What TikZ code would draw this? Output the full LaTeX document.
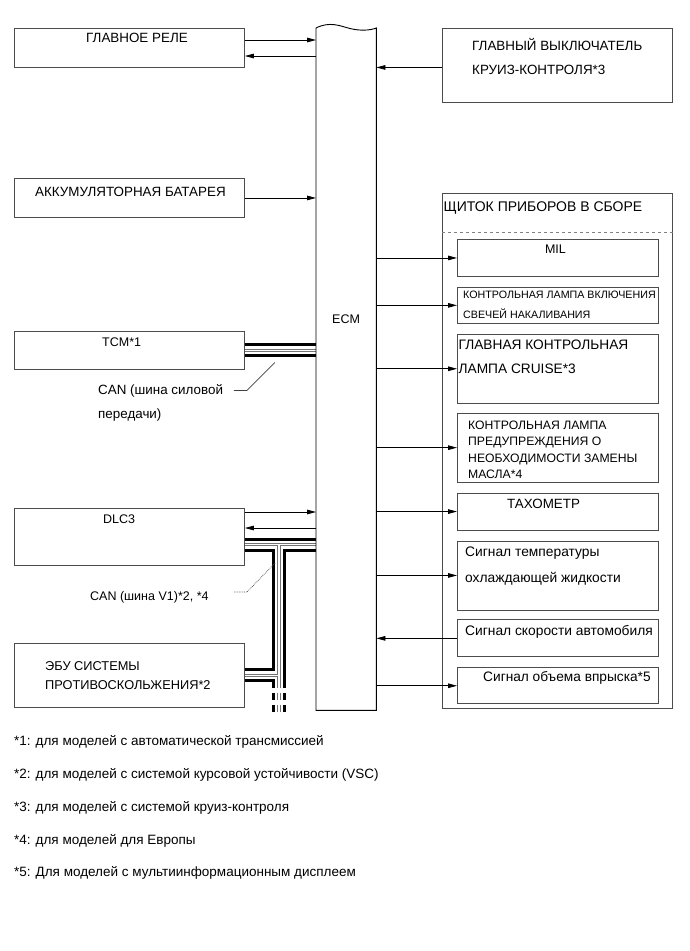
\documentclass[tikz,border=0pt]{standalone}
\usepackage{fontspec}
\setmainfont{Liberation Sans}
\usetikzlibrary{arrows.meta,positioning,calc}
\tikzset{
  box/.style    ={draw=black!70,line width=0.9pt,inner sep=0pt,anchor=north west},
  panelbox/.style={box,minimum width=201pt},
  txt/.style    ={inner sep=0pt,anchor=north west,align=left,
                  font=\fontsize{13.4pt}{24pt}\selectfont},
  latin/.style  ={txt,font=\fontsize{12.5pt}{24pt}\selectfont},
  small/.style  ={txt,font=\fontsize{10.7pt}{19.5pt}\selectfont},
  big/.style    ={txt,font=\fontsize{13.7pt}{24pt}\selectfont},
  note/.style   ={inner sep=0pt,anchor=west,font=\fontsize{13.5pt}{16pt}\selectfont},
  sig/.style    ={-{Triangle[length=9pt,width=4.6pt]},line width=0.8pt},
  lead/.style   ={line width=0.7pt,draw=black!75},
}
\begin{document}
\begin{tikzpicture}[x=1pt,y=-1pt]
\useasboundingbox (0,0) rectangle (690,951);

% ECM column
\node[inner sep=0pt,anchor=north west,minimum width=60pt,minimum height=682pt] (ecm) at (316,28) {};
\node[latin] (ecmT) at (332,315) {ECM};

% left-hand units
\node[box,minimum width=230pt,minimum height=39pt] (relay) at (14,28) {};
\node[txt] (relayT) at ([shift={(72,5)}]relay.north west) {ГЛАВНОЕ РЕЛЕ};
\node[box,minimum width=230pt,minimum height=39pt] (batt) at (14,178) {};
\node[txt] (battT) at ([shift={(21,9)}]batt.north west) {АККУМУЛЯТОРНАЯ БАТАРЕЯ};
\node[box,minimum width=230pt,minimum height=38pt] (tcm) at (14,331) {};
\node[latin] (tcmT) at ([shift={(88,7)}]tcm.north west) {TCM*1};
\node[box,minimum width=230pt,minimum height=57pt] (dlc) at (14,508) {};
\node[latin] (dlcT) at ([shift={(89,7)}]dlc.north west) {DLC3};
\node[box,minimum width=230pt,minimum height=64pt] (esp) at (14,643) {};
\node[txt,font=\fontsize{12.8pt}{19pt}\selectfont] (espT) at ([shift={(31,18)}]esp.north west)
  {ЭБУ СИСТЕМЫ\\ПРОТИВОСКОЛЬЖЕНИЯ*2};

% right-hand units
\node[box,minimum width=230pt,minimum height=74pt] (cruise) at (442,28) {};
\node[txt] (cruiseT) at ([shift={(30,10)}]cruise.north west)
  {ГЛАВНЫЙ ВЫКЛЮЧАТЕЛЬ\\КРУИЗ-КОНТРОЛЯ*3};
\node[box,minimum width=230pt,minimum height=515pt] (panel) at (442,193) {};
\node[txt,font=\fontsize{14pt}{16pt}\selectfont] (panelT) at ([shift={(1.5,9)}]panel.north west)
  {ЩИТОК ПРИБОРОВ В СБОРЕ};
\draw[dashed,draw=black!50,line width=0.7pt]
  ([yshift=-39pt]panel.north west) -- ([yshift=-39pt]panel.north east);

\node[panelbox,minimum height=37pt] (mil) at (457,239) {};
\node[panelbox,minimum height=36pt,below=10pt of mil] (glow) {};
\node[panelbox,minimum height=69pt,below=10pt of glow] (lamp) {};
\node[panelbox,minimum height=69pt,below=9pt of lamp] (oil) {};
\node[panelbox,minimum height=37pt,below=10pt of oil] (tacho) {};
\node[panelbox,minimum height=69pt,below=10pt of tacho] (temp) {};
\node[panelbox,minimum height=37pt,below=9pt of temp] (speed) {};
\node[panelbox,minimum height=36pt,below=10pt of speed] (inj) {};

\node[latin,anchor=north] (milT) at ([shift={(-2.5,6)}]mil.north) {MIL};
\node[small] (glowT) at ([shift={(6,4)}]glow.north west)
  {КОНТРОЛЬНАЯ ЛАМПА ВКЛЮЧЕНИЯ\\СВЕЧЕЙ НАКАЛИВАНИЯ};
\node[big] (lampT) at ([shift={(1.5,6)}]lamp.north west)
  {ГЛАВНАЯ КОНТРОЛЬНАЯ\\ЛАМПА CRUISE*3};
\node[txt,font=\fontsize{12.2pt}{16.3pt}\selectfont] (oilT) at ([shift={(11,8)}]oil.north west)
  {КОНТРОЛЬНАЯ ЛАМПА\\ПРЕДУПРЕЖДЕНИЯ О\\НЕОБХОДИМОСТИ ЗАМЕНЫ\\МАСЛА*4};
\node[txt] (tachoT) at ([shift={(50,6)}]tacho.north west) {ТАХОМЕТР};
\node[txt,font=\fontsize{13.8pt}{26pt}\selectfont] (tempT) at ([shift={(8,6)}]temp.north west)
  {Сигнал температуры\\охлаждающей жидкости};
\node[txt,font=\fontsize{13.8pt}{16pt}\selectfont] (speedT) at ([shift={(8,6)}]speed.north west)
  {Сигнал скорости автомобиля};
\node[txt,font=\fontsize{13.7pt}{16pt}\selectfont] (injT) at ([shift={(26,4)}]inj.north west)
  {Сигнал объема впрыска*5};

% CAN buses, drawn in layers so that the branches merge
\coordinate (tee) at (279,544.5);
\coordinate (busend) at (279,688);
\foreach \w/\c in {14/black, 8/white, 3.6/black!55, 1.4/white}{
  \draw[line width=\w pt,draw=\c] (tcm.east) -- (tcm.east -| ecm.west);
  \draw[line width=\w pt,draw=\c] (dlc.east |- tee) -- (tee -| ecm.west);
  \draw[line width=\w pt,draw=\c] (tee) -- (busend);
  \draw[line width=\w pt,draw=\c] (esp.east) -- (esp.east -| tee);
  \draw[line width=\w pt,draw=\c] ([yshift=-5pt]busend) -- ++(0,7);
  \draw[line width=\w pt,draw=\c] ([yshift=-17pt]busend) -- ++(0,7);
}

% ECM outline with broken top
\draw[line width=0.9pt] (ecm.north west)
  .. controls (330,21) and (340,26) .. (350,28.5)
  .. controls (360,31) and (370,30.5) .. (ecm.north east)
  -- (ecm.south east) -- (ecm.south west) -- cycle;

% bus labels
\node[txt] (canA) at ([shift={(84,14)}]tcm.south west) {CAN (шина силовой\\передачи)};
\draw[lead] ([shift={(30,12)}]tcm.east) -- ++(-28,28) -- ++(-13,0);
\node[latin] (canB) at ([shift={(76,25)}]dlc.south west) {CAN (шина V1)*2, *4};
\draw[lead,densely dotted] ([shift={(-4,18.5)}]tee) -- ++(-28,29) -- ++(-14,0);

% signals
\draw[sig] ([yshift=-12pt]relay.north east) -- ([yshift=-12pt]relay.north east -| ecm.west);
\draw[sig] ([yshift=-28pt]relay.north east -| ecm.west) -- ([yshift=-28pt]relay.north east);
\draw[sig] ([yshift=-2pt]cruise.west) -- ([yshift=-2pt]cruise.west -| ecm.east);
\draw[sig] (batt.east) -- (batt.east -| ecm.west);
\draw[sig] ([yshift=-4pt]dlc.north east) -- ([yshift=-4pt]dlc.north east -| ecm.west);
\draw[sig] ([yshift=-20pt]dlc.north east -| ecm.west) -- ([yshift=-20pt]dlc.north east);
\foreach \n in {mil,glow,lamp,oil,tacho,temp,inj}
  \draw[sig] (\n.west -| ecm.east) -- (\n.west);
\draw[sig] (speed.west) -- (speed.west -| ecm.east);

% footnotes
\node[note] (n1) at (14,742) {*1: для моделей с автоматической трансмиссией};
\node[note] (n2) at (14,775) {*2: для моделей с системой курсовой устойчивости (VSC)};
\node[note] (n3) at (14,808) {*3: для моделей с системой круиз-контроля};
\node[note] (n4) at (14,841) {*4: для моделей для Европы};
\node[note] (n5) at (14,873) {*5: Для моделей с мультиинформационным дисплеем};
\end{tikzpicture}
\end{document}
